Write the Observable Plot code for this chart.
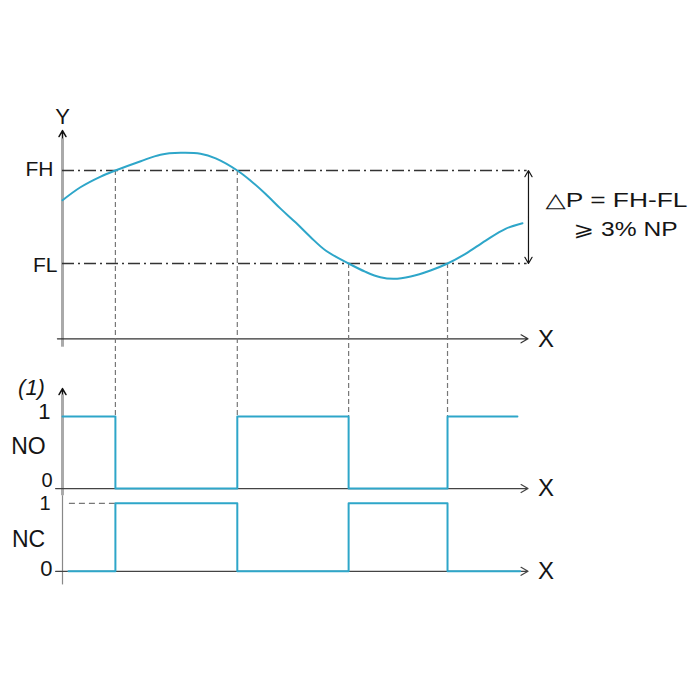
<!DOCTYPE html>
<html>
<head>
<meta charset="utf-8">
<script src="https://cdn.jsdelivr.net/npm/d3@7"></script>
<script src="https://cdn.jsdelivr.net/npm/@observablehq/plot@0.6"></script>
<style>
  html, body { margin: 0; padding: 0; background: #fff; }
  #chart { width: 700px; height: 700px; }
</style>
</head>
<body>
<div id="chart"></div>
<script>
// time in arbitrary units (0..10), pressure in units where FL = 0 and FH = 1
const curveT = [0, 0.39, 0.83, 1.15, 1.70, 2.13, 2.57, 3.00, 3.33, 3.80, 4.09, 4.41, 4.74, 5.07, 5.39, 5.72, 6.22, 6.59, 6.91, 7.20, 7.57, 8.00, 8.37, 8.76, 9.20, 9.63, 10];
const curveV = [0.68, 0.82, 0.935, 1.00, 1.10, 1.17, 1.19, 1.18, 1.13, 1.00, 0.89, 0.75, 0.59, 0.44, 0.285, 0.14, 0, -0.09, -0.148, -0.165, -0.14, -0.075, 0, 0.104, 0.247, 0.373, 0.433];

const thresholdNames = ["FH", "FL"];
const thresholdV = [1, 0];

// where the curve crosses a threshold and the contacts switch
const switchT = [1.15, 3.80, 6.22, 8.37];
const switchV = [1, 1, 0, 0];

// contact states
const noT = [0, 1.15, 3.80, 6.22, 8.37, 9.89];
const noLevel = [1, 0, 1, 0, 1, 1];
const ncT = [0.13, 1.15, 3.80, 6.22, 8.37, 9.95];
const ncLevel = [0, 1, 0, 1, 0, 0];

const deltaLines = ["\u25B3P = FH-FL", "\u2A7E 3% NP"];
const deltaWidths = [142, 104];

// layout of the two contact rows inside the shared y scale
const TOP_BASE = -0.81;
const NO_BASE = -2.42, NO_AMP = 0.774;
const NC_BASE = -3.31, NC_AMP = 0.731;
const noY = l => NO_BASE + l * NO_AMP;
const ncY = l => NC_BASE + l * NC_AMP;

const blue = "#2ea6c9";
const ink = "#151515";

const curve = curveT.map((t, i) => ({t, v: curveV[i]}));
const switches = switchT.map((t, i) => ({t, v: switchV[i]}));
const noData = noT.map((t, i) => ({t, level: noLevel[i]}));
const ncData = ncT.map((t, i) => ({t, level: ncLevel[i]}));

const chart = Plot.plot({
  width: 700,
  height: 700,
  marginLeft: 62,
  marginRight: 178,
  marginTop: 30.5,
  marginBottom: 18.5,
  x: {domain: [0, 10], axis: null},
  y: {domain: [-4.5, 2.5], axis: null},
  style: {
    fontFamily: "'Liberation Sans', 'DejaVu Sans', Arial, sans-serif",
    fontSize: "20px",
    color: ink,
    background: "white",
    overflow: "visible"
  },
  marks: [
    // top panel axes
    Plot.arrow([0], {x1: 0, x2: 0, y1: 1.0, y2: 1.43, stroke: "#111", strokeWidth: 1.5, headLength: 7}),
    Plot.ruleX([0], {x: 0, y1: -0.9, y2: 1.34, stroke: "#aaa", strokeWidth: 3}),
    Plot.arrow([0], {x1: -0.11, x2: 10.12, y1: TOP_BASE, y2: TOP_BASE, stroke: "#333", strokeWidth: 1.2, headLength: 10}),

    // thresholds
    Plot.ruleY(thresholdV, {y: d => d, x1: 0, x2: 10.1, stroke: "#333", strokeWidth: 1.5, strokeDasharray: "12,4,2,4"}),
    Plot.arrow([0, 1], {x1: 10.13, x2: 10.13, y1: 0.5, y2: d => d, stroke: ink, strokeWidth: 1.2, headLength: 9}),
    Plot.text([thresholdNames[0]], {x: 0, y: thresholdV[0], text: d => d, dx: -9, dy: -1, textAnchor: "end", fontSize: 21, fill: ink}),
    Plot.text([thresholdNames[1]], {x: 0, y: thresholdV[1], text: d => d, dx: -5, dy: 2, textAnchor: "end", fontSize: 21, fill: ink}),
    Plot.text(["Y"], {x: 0, y: 1.575, text: d => d, fontSize: 22, fill: ink}),

    // switching points down to the contact rows
    Plot.ruleX(switches, {x: "t", y1: "v", y2: () => noY(1), stroke: "#777", strokeWidth: 1.2, strokeDasharray: "5,3"}),

    Plot.line(curve, {x: "t", y: "v", curve: "catmull-rom", stroke: blue, strokeWidth: 2}),

    // delta P annotation
    Plot.text([deltaLines[0]], {x: 10.5, y: 0.681, text: d => d, textAnchor: "start", fontSize: 20, fill: ink}),
    Plot.text([deltaLines[1]], {x: 11.11, y: 0.366, text: d => d, textAnchor: "start", fontSize: 20, fill: ink}),

    // contact rows axes
    Plot.arrow([0], {x1: 0, x2: 0, y1: noY(0.8), y2: noY(1.39), stroke: "#111", strokeWidth: 1.5, headLength: 7}),
    Plot.ruleX([0], {x: 0, y1: noY(-0.1), y2: noY(1.3), stroke: "#aaa", strokeWidth: 3}),
    Plot.ruleX([0], {x: 0, y1: ncY(-0.2), y2: noY(-0.1), stroke: "#888", strokeWidth: 1.2}),
    Plot.arrow([NO_BASE, NC_BASE], {x1: -0.15, x2: 10.12, y1: d => d, y2: d => d, stroke: "#444", strokeWidth: 1.2, headLength: 10}),
    Plot.ruleY([ncY(1)], {y: d => d, x1: 0.15, x2: 1.15, stroke: "#777", strokeWidth: 1.2, strokeDasharray: "6,4"}),

    Plot.line(noData, {x: "t", y: d => noY(d.level), curve: "step-after", stroke: blue, strokeWidth: 2}),
    Plot.line(ncData, {x: "t", y: d => ncY(d.level), curve: "step-after", stroke: blue, strokeWidth: 2}),

    Plot.text(["1"], {x: 0, y: noY(1), text: d => d, dx: -12, dy: -4.5, textAnchor: "end", fontSize: 22, fill: ink}),
    Plot.text(["0"], {x: 0, y: noY(0), text: d => d, dx: -10, dy: -8, textAnchor: "end", fontSize: 20, fill: ink}),
    Plot.text(["1"], {x: 0, y: ncY(1), text: d => d, dx: -12, dy: 0, textAnchor: "end", fontSize: 20, fill: ink}),
    Plot.text(["0"], {x: 0, y: ncY(0), text: d => d, dx: -10, dy: -2.5, textAnchor: "end", fontSize: 22, fill: ink}),
    Plot.text(["NO"], {x: 0, y: noY(0.58), text: d => d, dx: -34, fontSize: 23, fill: ink}),
    Plot.text(["NC"], {x: 0, y: ncY(0.47), text: d => d, dx: -34, fontSize: 23, fill: ink}),
    Plot.text(["(1)"], {x: 0, y: noY(1.4), text: d => d, dx: -31, fontSize: 22, fontStyle: "italic", fill: ink}),

    // X labels for the three time axes
    Plot.text([TOP_BASE, NO_BASE, NC_BASE], {x: 10.12, y: d => d, text: () => "X", dx: 10, textAnchor: "start", fontSize: 24, fill: ink})
  ]
});

// the delta P lines are drawn wider than the plain font in the reference
d3.select(chart).selectAll("text")
  .filter(function() { return deltaLines.includes(this.textContent); })
  .each(function() {
    d3.select(this)
      .attr("textLength", deltaWidths[deltaLines.indexOf(this.textContent)])
      .attr("lengthAdjust", "spacingAndGlyphs");
  });

d3.select("#chart").append(() => chart);
</script>
</body>
</html>
